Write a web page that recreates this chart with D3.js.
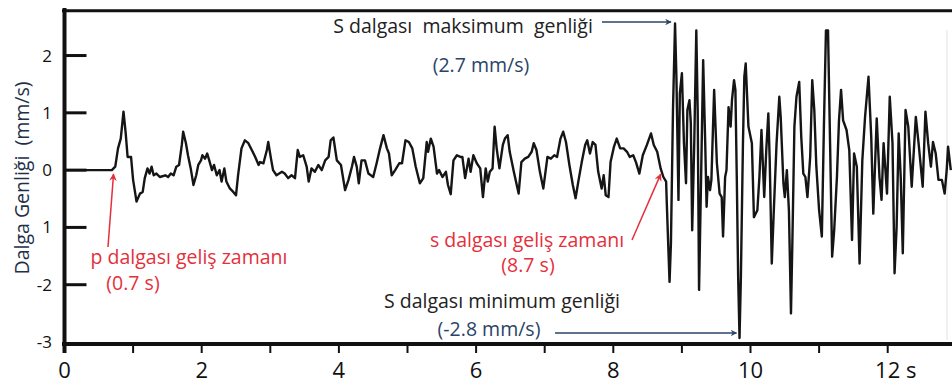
<!DOCTYPE html>
<html><head><meta charset="utf-8">
<script src="https://cdn.jsdelivr.net/npm/d3@7/dist/d3.min.js"></script>
<style>
html,body{margin:0;padding:0;background:#fff;}
svg{display:block;font-family:"Open Sans","Noto Sans",sans-serif;}
</style></head>
<body>
<svg id="chart" width="952" height="385"></svg>
<script>
// ---- data ----
const waveform = [[0,0],[0.69,0],[0.74,0.06],[0.78,0.38],[0.82,0.55],[0.86,1.02],[0.89,0.67],[0.92,0.23],[0.97,0.23],[1.00,-0.17],[1.05,-0.55],[1.10,-0.41],[1.14,-0.38],[1.17,-0.14],[1.21,0.03],[1.24,-0.06],[1.27,0.06],[1.30,-0.09],[1.34,-0.06],[1.39,-0.12],[1.47,-0.09],[1.51,-0.12],[1.55,-0.06],[1.59,-0.09],[1.63,0.06],[1.67,0.09],[1.71,0.44],[1.73,0.67],[1.77,0.47],[1.80,0.26],[1.84,0.03],[1.88,-0.26],[1.92,-0.09],[1.95,0.09],[1.99,0.17],[2.01,0.26],[2.05,0.20],[2.08,0.29],[2.11,0.17],[2.15,0],[2.18,0.09],[2.22,-0.09],[2.26,0],[2.29,-0.20],[2.33,0.03],[2.36,-0.20],[2.41,-0.32],[2.46,-0.38],[2.50,-0.44],[2.53,-0.09],[2.58,0.38],[2.63,0.52],[2.68,0.47],[2.73,0.35],[2.78,0.23],[2.83,0.09],[2.85,0.14],[2.90,0.12],[2.95,0.35],[2.97,0.49],[3.01,0.20],[3.04,0],[3.09,-0.09],[3.17,-0.03],[3.21,-0.06],[3.26,-0.14],[3.31,-0.09],[3.36,-0.14],[3.40,0.35],[3.43,0.23],[3.48,0.26],[3.53,0.06],[3.56,-0.20],[3.60,0.03],[3.65,-0.03],[3.70,0.09],[3.75,0],[3.80,0.17],[3.85,0.23],[3.88,0.52],[3.92,0.57],[3.97,0.17],[4.03,0.09],[4.09,-0.35],[4.14,-0.17],[4.19,0.06],[4.22,0.23],[4.26,0.06],[4.29,-0.23],[4.33,0.17],[4.38,0.17],[4.43,-0.06],[4.50,-0.12],[4.55,0.12],[4.60,0.38],[4.65,0.61],[4.70,0.38],[4.73,0.29],[4.77,-0.09],[4.82,0],[4.88,0.12],[4.92,0.12],[4.97,0.52],[5.02,0.49],[5.07,0.38],[5.12,0.06],[5.18,-0.23],[5.23,-0.14],[5.28,0.49],[5.30,0.32],[5.34,0.55],[5.38,0.41],[5.43,-0.06],[5.46,0],[5.51,-0.12],[5.56,-0.03],[5.59,-0.26],[5.63,-0.42],[5.67,0.17],[5.72,0.26],[5.77,0.23],[5.80,0.23],[5.84,-0.14],[5.89,0.20],[5.92,-0.03],[5.96,0.26],[6.01,0.12],[6.06,0.03],[6.10,-0.47],[6.14,0.03],[6.17,-0.20],[6.20,-0.03],[6.24,0.03],[6.27,0.76],[6.30,0.38],[6.34,0.03],[6.39,0.44],[6.42,0.55],[6.46,0.61],[6.49,0.32],[6.55,-0.03],[6.62,-0.41],[6.66,0.14],[6.71,0.20],[6.76,0.23],[6.81,0.32],[6.84,0.47],[6.88,0.35],[6.93,-0.03],[6.98,-0.32],[7.04,0.23],[7.09,0.20],[7.14,0.26],[7.18,0.23],[7.23,0.55],[7.27,0.67],[7.31,0.49],[7.36,0.09],[7.41,-0.26],[7.45,-0.49],[7.49,-0.20],[7.54,0.14],[7.59,0.44],[7.62,0.52],[7.66,0.29],[7.70,0.49],[7.74,0.44],[7.78,-0.03],[7.83,-0.32],[7.86,-0.09],[7.89,-0.44],[7.93,-0.47],[7.96,0.14],[8.01,0.41],[8.05,0.55],[8.10,0.38],[8.15,0.38],[8.20,0.32],[8.24,0.23],[8.29,0.26],[8.33,0.14],[8.38,-0.06],[8.43,0.26],[8.49,0.44],[8.55,0.64],[8.59,0.44],[8.64,0.32],[8.69,0.03],[8.73,-0.12],[8.77,-0.20],[8.78,-0.58],[8.80,-1.28],[8.82,-1.95],[8.84,-1.28],[8.87,1.05],[8.90,2.56],[8.92,1.63],[8.95,-0.52],[8.97,1.34],[9.00,1.69],[9.03,0.47],[9.06,-0.23],[9.08,1.05],[9.11,1.22],[9.13,0.82],[9.15,-1.05],[9.18,0.47],[9.21,2.44],[9.23,1.05],[9.25,-2.09],[9.28,-0.12],[9.31,1.92],[9.34,0.47],[9.36,-0.64],[9.38,-0.12],[9.41,-0.35],[9.43,-0.17],[9.47,1.40],[9.51,0.12],[9.55,-0.41],[9.58,-0.47],[9.60,-1.16],[9.63,-0.12],[9.65,0],[9.68,1.10],[9.71,0.76],[9.73,1.22],[9.76,1.57],[9.78,1.40],[9.80,-0.12],[9.82,-1.86],[9.84,-2.93],[9.86,-1.86],[9.89,0.47],[9.91,1.63],[9.93,1.86],[9.97,0.76],[10.02,0.47],[10.05,-0.82],[10.10,-0.70],[10.13,-0.12],[10.16,0.70],[10.20,-0.47],[10.23,0.35],[10.26,0.99],[10.28,0.17],[10.31,-1.63],[10.34,-0.70],[10.38,0.47],[10.42,1.28],[10.44,0.93],[10.48,-0.23],[10.50,-0.47],[10.53,0],[10.56,-0.70],[10.59,-2.50],[10.61,-1.28],[10.64,0.76],[10.67,1.28],[10.71,1.54],[10.74,0.58],[10.77,-0.06],[10.80,-0.12],[10.83,-0.47],[10.87,0.23],[10.90,1.57],[10.93,1.05],[10.96,0.06],[11.00,-0.70],[11.04,-1.16],[11.07,0.76],[11.10,2.44],[11.13,2.44],[11.16,0.47],[11.19,-1.51],[11.22,-1.05],[11.26,-0.12],[11.29,0.87],[11.32,1.40],[11.35,0.87],[11.40,0.70],[11.44,0.35],[11.48,-1.22],[11.51,0.29],[11.55,0.06],[11.59,-1.63],[11.63,0.17],[11.67,0.93],[11.72,1.63],[11.76,0.58],[11.79,-0.76],[11.84,0.90],[11.88,-0.12],[11.91,-0.52],[11.94,0.47],[11.99,-0.41],[12.03,1.28],[12.07,0.47],[12.10,-1.80],[12.13,-0.99],[12.16,0.64],[12.19,-0.12],[12.22,-1.45],[12.26,1.05],[12.30,0.76],[12.35,-0.29],[12.41,0.93],[12.45,0.47],[12.51,-0.29],[12.55,1.02],[12.59,0.47],[12.63,0.06],[12.66,0.49],[12.70,0.29],[12.74,-0.17],[12.79,-0.17],[12.83,-0.41],[12.86,0],[12.88,0.41],[12.92,0]];

const xTickValues = [0,1,2,3,4,5,6,7,8,9,10,11,12];
const xLabelValues = [0,2,4,6,8,10,12];
const xLabelTexts = ["0","2","4","6","8","10","12"];
const yTickValues = [2,1,0,-1,-2];
const yLabelValues = [2,1,0,-1,-2,-3];
const yLabelTexts = ["2","1","0","1","-2","-3"];
const yTitle = "Dalga Genliği\u00a0\u00a0(mm/s)";
const pArrival = {t:0.7, label:"p dalgası geliş zamanı", sub:"(0.7 s)"};
const sArrival = {t:8.72, label:"s dalgası geliş zamanı", sub:"(8.7 s)"};
const sMax = {t:8.90, v:2.56, label:"S dalgası\u00a0 maksimum\u00a0 genliği", sub:"(2.7 mm/s)"};
const sMin = {t:9.84, v:-2.8, label:"S dalgası minimum genliği", sub:"(-2.8 mm/s)"};

// ---- drawing ----
const svg = d3.select("#chart");
const x = d3.scaleLinear().domain([0,13]).range([64.5, 64.5+13*68.6]);
const y = d3.scaleLinear().domain([-3,2.8]).range([342, 9.7]);

const RED = "#e4303c", NAVY = "#2a4468", DARK = "#222";
const FS = 19.5;

const defs = svg.append("defs");
function marker(id, color){
  defs.append("marker").attr("id",id).attr("viewBox","0 0 10 10").attr("refX",9).attr("refY",5)
    .attr("markerWidth",5).attr("markerHeight",5).attr("orient","auto-start-reverse")
    .append("path").attr("d","M0,0 L10,5 L0,10 L3,5 Z").attr("fill",color);
}
marker("arrRed", RED); marker("arrNavy", NAVY);

// faint right border
svg.append("line").attr("x1",947).attr("x2",947).attr("y1",30).attr("y2",340).attr("stroke","#e2e2e2").attr("stroke-width",1);

// waveform
const line = d3.line().x(d=>x(d[0])).y(d=>y(d[1]));
svg.append("path").datum(waveform).attr("d",line).attr("fill","none")
  .attr("stroke","#151515").attr("stroke-width",2.4).attr("stroke-linejoin","round");

// frame
svg.append("line").attr("x1",62).attr("x2",952).attr("y1",y(2.8)+1).attr("y2",y(2.8)+1).attr("stroke","#111").attr("stroke-width",3);
svg.append("line").attr("x1",62).attr("x2",952).attr("y1",y(-3)+2).attr("y2",y(-3)+2).attr("stroke","#111").attr("stroke-width",4);
svg.append("line").attr("x1",x(0)).attr("x2",x(0)).attr("y1",8).attr("y2",353).attr("stroke","#111").attr("stroke-width",4);

// y ticks (inside)
svg.selectAll(".yt").data(yTickValues).join("line").attr("class","yt")
  .attr("x1",x(0)).attr("x2",x(0)+22).attr("y1",d=>y(d)).attr("y2",d=>y(d))
  .attr("stroke","#111").attr("stroke-width",3);
// x ticks (outside)
svg.selectAll(".xt").data(xTickValues.filter(d=>d>0)).join("line").attr("class","xt")
  .attr("x1",d=>x(d)).attr("x2",d=>x(d)).attr("y1",344).attr("y2",353)
  .attr("stroke","#111").attr("stroke-width",2);

// y labels
svg.selectAll(".yl").data(yLabelValues).join("text").attr("class","yl")
  .attr("x",52).attr("y",d=>y(d)+6).attr("text-anchor","end")
  .attr("font-size",17).attr("fill","#111").text((d,i)=>yLabelTexts[i]);
// x labels
xLabelValues.forEach((v,i)=>{
  const t = svg.append("text").attr("x",x(v)).attr("y",378).attr("text-anchor","middle")
    .attr("font-size",22).attr("fill","#111").text(xLabelTexts[i]);
  if(i===xLabelValues.length-1){
    const w = t.node().getComputedTextLength();
    t.attr("text-anchor","start").attr("x",x(v)-w/2);
    t.append("tspan").text(" s");
  }
});

// y title
svg.append("text").attr("transform","translate(29,178) rotate(-90)").attr("text-anchor","middle")
  .attr("font-size",19.5).attr("fill","#1e3048").text(yTitle);

// annotations: p arrival
svg.append("line").attr("x1",108).attr("y1",247).attr("x2",x(pArrival.t)+1).attr("y2",y(0)+4)
  .attr("stroke",RED).attr("stroke-width",1.5).attr("marker-end","url(#arrRed)");
svg.append("text").attr("x",189).attr("y",264).attr("text-anchor","middle").attr("font-size",FS).attr("fill",RED).text(pArrival.label);
svg.append("text").attr("x",133).attr("y",290).attr("text-anchor","middle").attr("font-size",FS).attr("fill",RED).text(pArrival.sub);

// s arrival
svg.append("line").attr("x1",632).attr("y1",240).attr("x2",x(sArrival.t)-2).attr("y2",y(0)+4)
  .attr("stroke",RED).attr("stroke-width",1.5).attr("marker-end","url(#arrRed)");
svg.append("text").attr("x",527).attr("y",247).attr("text-anchor","middle").attr("font-size",FS).attr("fill",RED).text(sArrival.label);
svg.append("text").attr("x",528).attr("y",272).attr("text-anchor","middle").attr("font-size",FS).attr("fill",RED).text(sArrival.sub);

// S max
svg.append("text").attr("x",463).attr("y",33).attr("text-anchor","middle").attr("font-size",FS).attr("fill",DARK).text(sMax.label);
svg.append("text").attr("x",481).attr("y",72).attr("text-anchor","middle").attr("font-size",FS).attr("fill",NAVY).text(sMax.sub);
svg.append("line").attr("x1",602).attr("y1",22).attr("x2",x(sMax.t)-4).attr("y2",22)
  .attr("stroke",NAVY).attr("stroke-width",1.3).attr("marker-end","url(#arrNavy)");

// S min
svg.append("text").attr("x",502).attr("y",308).attr("text-anchor","middle").attr("font-size",FS).attr("fill",DARK).text(sMin.label);
svg.append("text").attr("x",489).attr("y",336).attr("text-anchor","middle").attr("font-size",FS).attr("fill",NAVY).text(sMin.sub);
svg.append("line").attr("x1",555).attr("y1",333).attr("x2",x(sMin.t)-3).attr("y2",333)
  .attr("stroke",NAVY).attr("stroke-width",1.3).attr("marker-end","url(#arrNavy)");
</script>
</body></html>
